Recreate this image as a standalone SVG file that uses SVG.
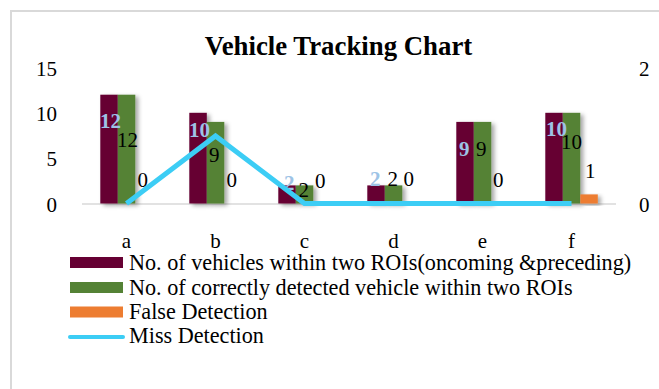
<svg xmlns="http://www.w3.org/2000/svg" width="659" height="389" viewBox="0 0 659 389">
<defs>
<filter id="sh" x="-30%" y="-10%" width="180%" height="130%">
<feDropShadow dx="3" dy="2" stdDeviation="2" flood-color="#000" flood-opacity="0.35"/>
</filter>
</defs>
<style>
text{font-family:"Liberation Serif","Times New Roman",serif;fill:#000}
.ax{font-size:21px}
.dl{font-size:21px}
.bl text{font-size:21px;font-weight:bold;fill:#9dc3e6}
.lg{font-size:22.2px}
.m{fill:#660033}
.g{fill:#548235}
.o{fill:#ed7d31}
</style>
<rect x="0" y="0" width="659" height="389" fill="#fff"/>
<rect x="11" y="11" width="700" height="420" fill="none" stroke="#d9d9d9" stroke-width="2"/>
<text id="title" x="338.5" y="55" text-anchor="middle" style="font-size:26.8px;font-weight:bold">Vehicle Tracking Chart</text>

<g id="axis-left" class="ax" text-anchor="end">
<text x="57" y="75.5">15</text>
<text x="57" y="120.5">10</text>
<text x="57" y="166">5</text>
<text x="57" y="211.5">0</text>
</g>
<g id="axis-right" class="ax">
<text x="639" y="75.5">2</text>
<text x="639" y="211.5">0</text>
</g>
<line x1="82" y1="204" x2="616" y2="204" stroke="#d9d9d9" stroke-width="1.5"/>
<g id="categories" class="ax" text-anchor="middle">
<text x="126.5" y="248">a</text>
<text x="215.5" y="248">b</text>
<text x="304.5" y="248">c</text>
<text x="393.5" y="248">d</text>
<text x="482.5" y="248">e</text>
<text x="571.5" y="248">f</text>
</g>

<g id="series-vehicles" filter="url(#sh)">
<rect class="m" x="100.3" y="94.7" width="17.5" height="108.8"/>
<rect class="m" x="189.3" y="112.8" width="17.5" height="90.7"/>
<rect class="m" x="278.3" y="185.4" width="17.5" height="18.1"/>
<rect class="m" x="367.3" y="185.4" width="17.5" height="18.1"/>
<rect class="m" x="456.3" y="121.9" width="17.5" height="81.6"/>
<rect class="m" x="545.3" y="112.8" width="17.5" height="90.7"/>
</g>
<g id="series-correct" filter="url(#sh)">
<rect class="g" x="117.8" y="94.7" width="17.5" height="108.8"/>
<rect class="g" x="206.8" y="121.9" width="17.5" height="81.6"/>
<rect class="g" x="295.8" y="185.4" width="17.5" height="18.1"/>
<rect class="g" x="384.8" y="185.4" width="17.5" height="18.1"/>
<rect class="g" x="473.8" y="121.9" width="17.5" height="81.6"/>
<rect class="g" x="562.8" y="112.8" width="17.5" height="90.7"/>
</g>
<g id="series-false" filter="url(#sh)">
<rect class="o" x="580.3" y="194.4" width="17.5" height="9.1"/>
</g>

<g id="labels-vehicles" class="bl">
<text x="100" y="128">12</text>
<text x="189" y="137">10</text>
<text x="284" y="190">2</text>
<text x="370" y="186">2</text>
<text x="459" y="156">9</text>
<text x="546" y="136">10</text>
</g>
<g id="labels-correct" class="dl">
<text x="117" y="147">12</text>
<text x="209" y="162">9</text>
<text x="298.5" y="197">2</text>
<text x="387.5" y="186">2</text>
<text x="476" y="156">9</text>
<text x="561" y="149">10</text>
</g>
<g id="labels-false" class="dl">
<text x="137.5" y="187">0</text>
<text x="226.5" y="187">0</text>
<text x="315" y="188">0</text>
<text x="403.5" y="186">0</text>
<text x="493" y="187">0</text>
<text x="585" y="178">1</text>
</g>

<g id="connectors">
<polyline id="miss-detection" points="126.5,203.5 215.5,136 304.5,203.5 393.5,203.5 482.5,203.5 571.5,203.5" fill="none" stroke="#3ccdf5" stroke-width="5" stroke-linejoin="miter"/>
</g>

<g id="legend" class="lg">
<rect class="m" x="70" y="257" width="53" height="11"/>
<text x="129" y="270">No. of vehicles within two ROIs(oncoming &amp;preceding)</text>
<rect class="g" x="70" y="282" width="53" height="11"/>
<text x="129" y="295">No. of correctly detected vehicle within two ROIs</text>
<rect class="o" x="70" y="306.5" width="53" height="11"/>
<text x="129" y="319">False Detection</text>
<line x1="70" y1="337" x2="123" y2="337" stroke="#3ccdf5" stroke-width="4" stroke-linecap="round"/>
<text x="129" y="343">Miss Detection</text>
</g>
</svg>
